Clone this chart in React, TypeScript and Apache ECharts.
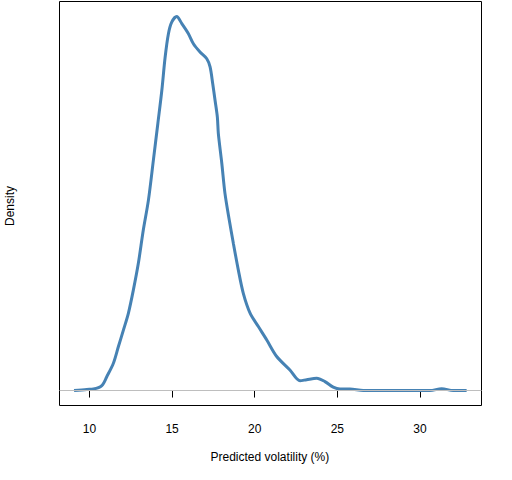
import React, { useEffect, useRef } from "react";
import * as echarts from "echarts";

const volatility = [
  9.07, 9.84, 10.24, 10.75, 11.05, 11.45, 11.75, 12.06, 12.36, 12.66, 12.96, 13.26, 13.57, 13.87,
  14.14, 14.38, 14.58, 14.78, 14.98, 15.28, 15.59, 15.99, 16.29, 16.69, 17.1, 17.3, 17.46, 17.6,
  17.74, 17.8, 18.01, 18.2, 18.46, 18.71, 19.01, 19.31, 19.72, 20.22, 20.73, 21.33, 22.13, 22.74,
  23.14, 23.75, 24.25, 24.75, 25.16, 25.76, 26.57, 30.6, 31.31, 32.01, 32.82,
];
const density = [
  0.0, 0.003, 0.004, 0.013, 0.037, 0.073, 0.117, 0.162, 0.207, 0.269, 0.34, 0.429, 0.509, 0.616,
  0.714, 0.802, 0.891, 0.954, 0.985, 1.0, 0.981, 0.954, 0.927, 0.905, 0.887, 0.865, 0.82, 0.776,
  0.731, 0.687, 0.607, 0.527, 0.456, 0.393, 0.322, 0.26, 0.207, 0.171, 0.135, 0.091, 0.055, 0.026,
  0.029, 0.033, 0.024, 0.009, 0.004, 0.004, 0.0, 0.0, 0.005, 0.0, 0.0,
];
const xTicks = [10, 15, 20, 25, 30];
const xLabel = "Predicted volatility (%)";
const yLabel = "Density";

const FONT = "'Liberation Sans', Arial, sans-serif";

export default function App() {
  const ref = useRef<HTMLDivElement>(null);
  useEffect(() => {
    if (!ref.current) return;
    const chart = echarts.init(ref.current, null, { renderer: "svg" });
    chart.setOption({
      animation: false,
      backgroundColor: "#fff",
      grid: {
        left: 59.5,
        right: 30.5,
        top: 1.5,
        bottom: 74.5,
        show: true,
        borderColor: "#000",
        borderWidth: 1,
        backgroundColor: "transparent",
      },
      xAxis: {
        type: "value",
        min: 8.19,
        max: 33.72,
        axisLine: { show: false },
        axisTick: {
          show: true,
          length: 7,
          lineStyle: { color: "#000", width: 1 },
          customValues: xTicks,
        },
        axisLabel: {
          show: true,
          customValues: xTicks,
          margin: 17,
          color: "#000",
          fontSize: 12,
          fontFamily: FONT,
        },
        splitLine: { show: false },
      },
      yAxis: {
        type: "value",
        min: -0.04,
        max: 1.04,
        axisLine: { show: false },
        axisTick: { show: false },
        axisLabel: { show: false },
        splitLine: { show: false },
      },
      graphic: [
        {
          type: "text",
          left: 270.5 - 60,
          top: 451,
          style: {
            text: xLabel,
            x: 0,
            y: 0,
            width: 120,
            fill: "#000",
            font: `12px ${FONT}`,
          },
          silent: true,
        },
        {
          type: "text",
          x: 10,
          y: 206,
          rotation: Math.PI / 2,
          style: {
            text: yLabel,
            fill: "#000",
            font: `12px ${FONT}`,
            align: "center",
            verticalAlign: "middle",
          },
          silent: true,
        },
      ],
      series: [
        {
          type: "line",
          data: volatility.map((v, i) => [v, density[i]]),
          smooth: 0.3,
          symbol: "none",
          lineStyle: { color: "#4682B4", width: 3 },
          markLine: {
            silent: true,
            symbol: "none",
            label: { show: false },
            lineStyle: { color: "#BEBEBE", width: 1, type: "solid" },
            data: [{ yAxis: 0 }],
          },
          z: 3,
        },
      ],
    });
    return () => chart.dispose();
  }, []);
  return (
    <div
      ref={ref}
      style={{ position: "fixed", left: 0, top: 0, width: 512, height: 480 }}
    />
  );
}
